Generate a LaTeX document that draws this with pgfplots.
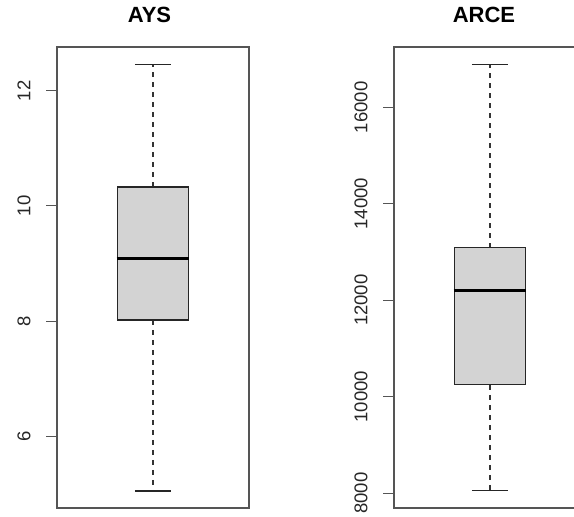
\documentclass[border=0pt]{standalone}
\usepackage{pgfplots}
\pgfplotsset{compat=1.18}
\usepackage{fontspec}
\setmainfont{Liberation Sans}

\definecolor{boxgray}{RGB}{211,211,211}
\definecolor{framegray}{RGB}{85,85,85}

\pgfplotsset{
  rbox/.style={
    scale only axis,
    width=192pt, height=461pt,
    anchor=south west,
    xmin=0.5, xmax=1.5,
    xtick=\empty,
    ytick pos=left,
    tick align=outside,
    major tick length=10.7pt,
    every tick/.style={framegray, line width=1.1pt},
    axis line style={framegray, line width=1.4pt},
    /pgf/number format/assume math mode=true,
    /pgf/number format/1000 sep={},
    scaled y ticks=false,
    yticklabel shift=15.6pt,
    yticklabel style={rotate=90, anchor=south, inner sep=0pt,
      font=\fontsize{18.5}{20}\selectfont, text=black!85},
    title style={at={(0.5,1)}, anchor=base, yshift=18.7pt,
      font=\bfseries\fontsize{22}{24}\selectfont},
  },
  whisk/.style={black!80, line width=1.1pt, dash pattern=on 5pt off 5pt},
  cap/.style={black!85, line width=1.1pt},
  boxbody/.style={fill=boxgray, draw=black!85, line width=1.2pt},
  med/.style={black, line width=3pt},
}

\begin{document}
\begin{tikzpicture}
\useasboundingbox (0,0) rectangle (574pt,517pt);
\clip (0,0) rectangle (574pt,517pt);

% AYS: whiskers 5.05 / 12.46, quartiles 8.02 / 10.33, median 9.09
\begin{axis}[rbox, at={(57pt,9pt)},
  ymin=4.754, ymax=12.76,
  ytick={6,8,10,12},
  title={AYS}, title style={xshift=-3.5pt}]
\addplot[whisk] coordinates {(1,10.33) (1,12.46)};
\addplot[whisk] coordinates {(1,8.02) (1,5.05)};
\addplot[cap] coordinates {(0.906,12.46) (1.094,12.46)};
\addplot[cap] coordinates {(0.906,5.05) (1.094,5.05)};
\addplot[boxbody] coordinates {(0.815,8.02) (1.185,8.02) (1.185,10.33) (0.815,10.33)} -- cycle;
\addplot[med] coordinates {(0.81,9.09) (1.19,9.09)};
\end{axis}

% ARCE: whiskers 8048 / 16890, quartiles 10248 / 13091, median 12207
\begin{axis}[rbox, at={(394pt,9pt)},
  ymin=7694, ymax=17250,
  ytick={8000,10000,12000,14000,16000},
  title={ARCE}, title style={xshift=-6pt}]
\addplot[whisk] coordinates {(1,13091) (1,16890)};
\addplot[whisk] coordinates {(1,10248) (1,8048)};
\addplot[cap] coordinates {(0.906,16890) (1.094,16890)};
\addplot[cap] coordinates {(0.906,8048) (1.094,8048)};
\addplot[boxbody] coordinates {(0.815,10248) (1.185,10248) (1.185,13091) (0.815,13091)} -- cycle;
\addplot[med] coordinates {(0.81,12207) (1.19,12207)};
\end{axis}
\end{tikzpicture}
\end{document}
